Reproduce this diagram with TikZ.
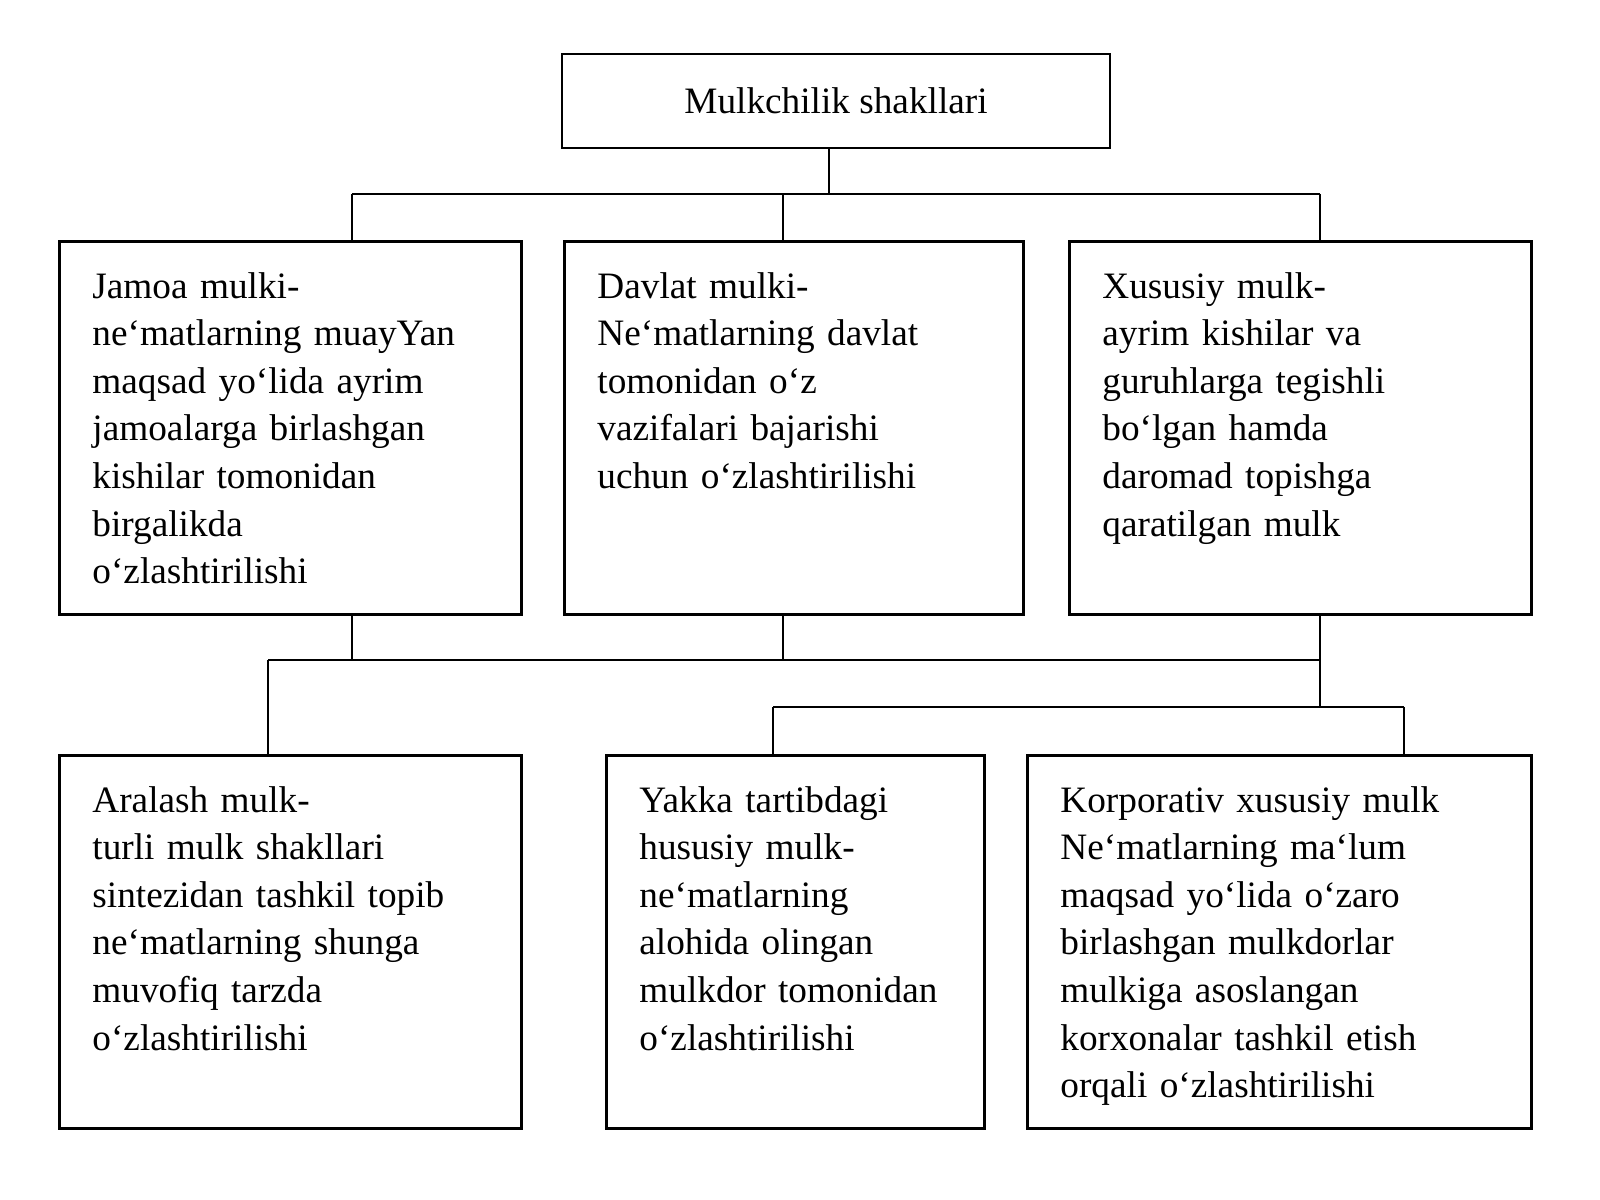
\documentclass[tikz,border=0pt]{standalone}
\usepackage{fontspec}
\setmainfont{Liberation Serif}
\usetikzlibrary{positioning}
\tikzset{
	sarlavha/.style={rectangle, draw, line width=2pt, font=\fontsize{26.5}{33.8}\selectfont,
		minimum width=13.7cm, minimum height=2.35cm, inner sep=0pt, text centered},
	quti/.style={rectangle, draw, line width=2pt, anchor=north west, align=left,
		font=\fontsize{26.5}{33.8}\selectfont, inner xsep=0.825cm, inner ysep=0pt,
		text height=40.5pt, text depth=224.8pt},
	chiziq/.style={line width=2pt}
}
\begin{document}
\begin{tikzpicture}[x=0.025cm, y=-0.025cm]
			\useasboundingbox (0,0) rectangle (1600,1200);
			\node[sarlavha] (root) at (836,101) {Mulkchilik shakllari};
			
			\node[quti, text width=9.9cm] (jamoa) at (58,240) {Jamoa mulki-\\ne‘matlarning muayYan\\maqsad yo‘lida ayrim\\jamoalarga birlashgan\\kishilar tomonidan\\birgalikda\\o‘zlashtirilishi};
			\node[quti, text width=9.825cm] (davlat) at (563,240) {Davlat mulki-\\Ne‘matlarning davlat\\tomonidan o‘z\\vazifalari bajarishi\\uchun o‘zlashtirilishi};
			\node[quti, text width=9.9cm] (xususiy) at (1068,240) {Xususiy mulk-\\ayrim kishilar va\\guruhlarga tegishli\\bo‘lgan hamda\\daromad topishga\\qaratilgan mulk};
			
			\node[quti, text width=9.9cm] (aralash) at (58,754) {Aralash mulk-\\turli mulk shakllari\\sintezidan tashkil topib\\ne‘matlarning shunga\\muvofiq tarzda\\o‘zlashtirilishi};
			\node[quti, text width=7.8cm] (yakka) at (605,754) {Yakka tartibdagi\\hususiy mulk-\\ne‘matlarning\\alohida olingan\\mulkdor tomonidan\\o‘zlashtirilishi};
			\node[quti, text width=10.95cm] (korp) at (1026,754) {Korporativ xususiy mulk\\Ne‘matlarning ma‘lum\\maqsad yo‘lida o‘zaro\\birlashgan mulkdorlar\\mulkiga asoslangan\\korxonalar tashkil etish\\orqali o‘zlashtirilishi};
			
			\coordinate (a0) at (829,194);
			\coordinate (a1) at (352,194);
			\coordinate (a2) at (783,194);
			\coordinate (a3) at (1320,194);
			\draw[chiziq] (a0 |- root.south) -- (a0);
			\draw[chiziq] (a1) -- (a3);
			\foreach \c/\n in {a1/jamoa, a2/davlat, a3/xususiy}
				\draw[chiziq] (\c) -- (\c |- \n.north);
			
			\coordinate (c0) at (268,660);
			\coordinate (c1) at (352,660);
			\coordinate (c2) at (783,660);
			\coordinate (c3) at (1320,660);
			\draw[chiziq] (c0) -- (c3);
			\foreach \c/\n in {c1/jamoa, c2/davlat, c3/xususiy}
				\draw[chiziq] (\c |- \n.south) -- (\c);
			\draw[chiziq] (c0) -- (c0 |- aralash.north);
			
			\coordinate (d0) at (1320,707);
			\coordinate (d1) at (773,707);
			\coordinate (d2) at (1404,707);
			\draw[chiziq] (c3) -- (d0);
			\draw[chiziq] (d1) -- (d2);
			\draw[chiziq] (d1) -- (d1 |- yakka.north);
			\draw[chiziq] (d2) -- (d2 |- korp.north);
		\end{tikzpicture}
\end{document}
